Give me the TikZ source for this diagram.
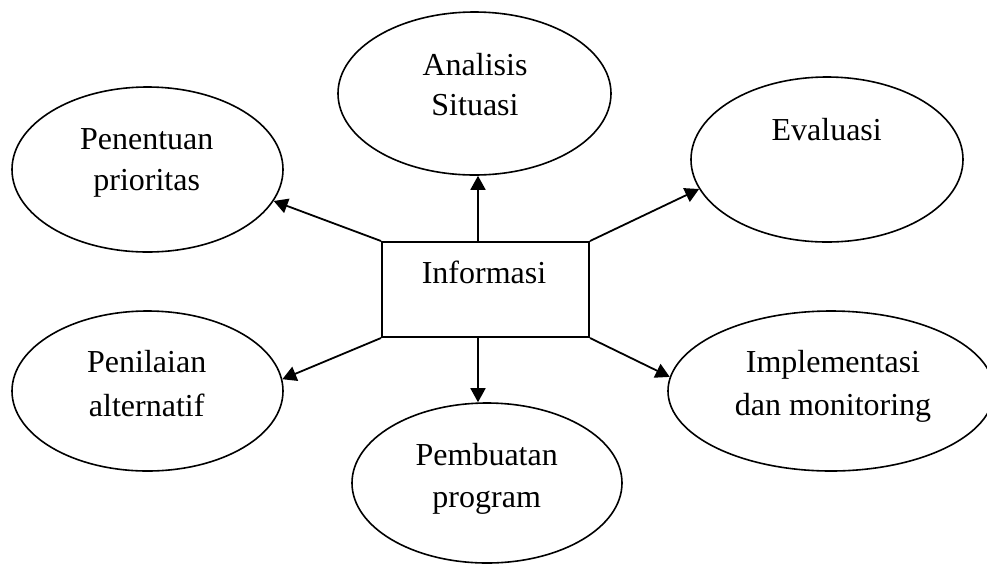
\documentclass[tikz,border=0pt]{standalone}
\usepackage{fontspec}
\setmainfont{Liberation Serif}
\usetikzlibrary{shapes.geometric,arrows.meta}
\tikzset{
  oval/.style={draw, ellipse, line width=0.8pt, inner sep=0pt},
  infobox/.style={draw, rectangle, line width=1pt, inner sep=0pt, minimum width=103.5pt, minimum height=47.5pt},
  lbl/.style={anchor=base, inner sep=0pt, font=\fontsize{16}{19}\selectfont},
  link/.style={line width=0.9pt, -{Triangle[length=7pt,width=7.5pt]}}
}
\begin{document}
\begin{tikzpicture}[x=0.5pt,y=-0.5pt]
\clip (0,0) rectangle (987,564);
% ellipses
\node[oval, minimum width=136.5pt, minimum height=81.5pt] (ana) at (474.5,93.5) {};
\node[oval, minimum width=135.5pt, minimum height=82.5pt] (pen) at (147.5,169.5) {};
\node[oval, minimum width=136pt, minimum height=82.5pt] (eva) at (827,159.5) {};
\node[oval, minimum width=135.5pt, minimum height=80pt] (pnl) at (147.5,391) {};
\node[oval, minimum width=135pt, minimum height=80pt] (pmb) at (487,483) {};
\node[oval, minimum width=163pt, minimum height=80pt] (imp) at (831,391) {};
% center box
\node[infobox] (box) at (485.5,289.5) {};
% labels
\node[lbl] (t1a) at (475,75) {Analisis};
\node[lbl] (t1b) at (475,115) {Situasi};
\node[lbl] (t2a) at (146.7,149) {Penentuan};
\node[lbl] (t2b) at (146.7,190) {prioritas};
\node[lbl] (t3) at (826.7,140) {Evaluasi};
\node[lbl] (t4) at (484,283) {Informasi};
\node[lbl] (t5a) at (146.7,372) {Penilaian};
\node[lbl] (t5b) at (146.7,416) {alternatif};
\node[lbl] (t6a) at (486.7,465) {Pembuatan};
\node[lbl] (t6b) at (486.7,507) {program};
\node[lbl] (t7a) at (833,372) {Implementasi};
\node[lbl] (t7b) at (833,415) {dan monitoring};
% connector start points on the box
\coordinate (btop) at (478,242);
\coordinate (bbot) at (478,337);
% connectors
\draw[link] (btop) -- (btop |- ana.south);
\draw[link] (bbot) -- (bbot |- pmb.north);
\draw[link] (box.north west) -- (pen.-14.5);
\draw[link] (box.north east) -- (eva.193);
\draw[link] (box.south west) -- (pnl.5);
\draw[link] (box.south east) -- (imp.175.8);
\end{tikzpicture}
\end{document}
